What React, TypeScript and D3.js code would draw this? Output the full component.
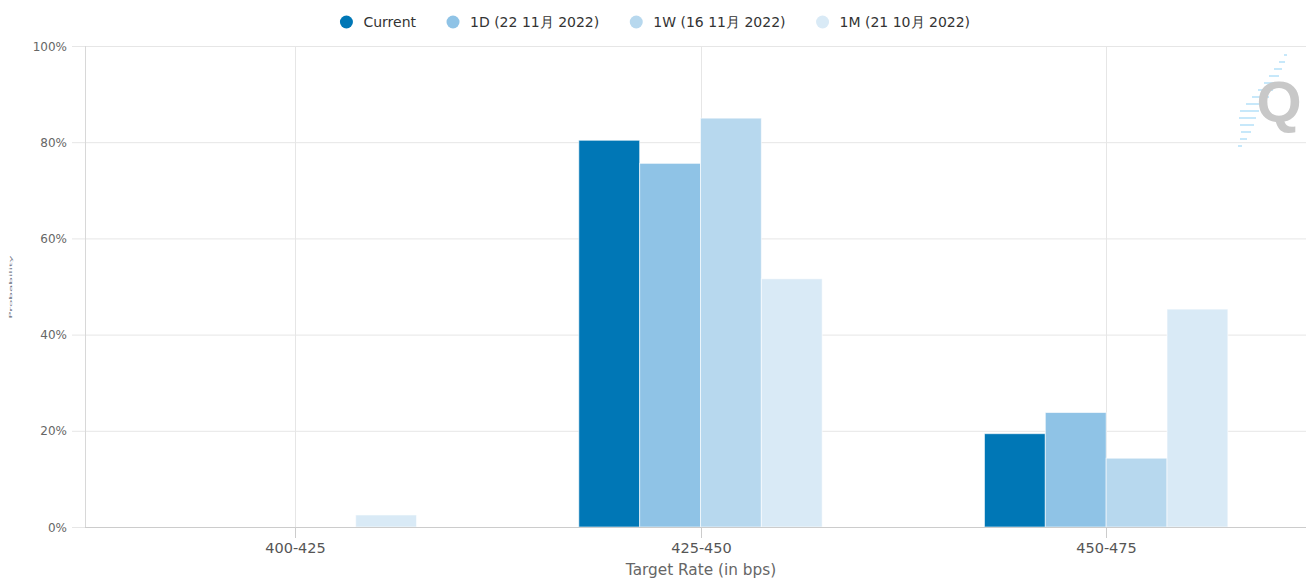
import React, { useEffect, useRef } from "react";
import * as d3 from "d3";

const categories = ["400-425", "425-450", "450-475"];
const seriesNames = ["Current", "1D (22 11月 2022)", "1W (16 11月 2022)", "1M (21 10月 2022)"];
const seriesColors = ["#0077b6", "#8fc3e6", "#b7d8ee", "#d9eaf6"];
const currentValues = [0, 80.4, 19.4];
const oneDayValues = [0, 75.6, 23.8];
const oneWeekValues = [0, 85.0, 14.3];
const oneMonthValues = [2.5, 51.6, 45.3];
const yTicks = [0, 20, 40, 60, 80, 100];
const xTitle = "Target Rate (in bps)";
const yTitle = "Probability";

const W = 1306;
const H = 579;
const FONT = "'DejaVu Sans', sans-serif";

export default function App() {
  const ref = useRef<SVGSVGElement | null>(null);

  useEffect(() => {
    const svg = d3.select(ref.current);
    svg.selectAll("*").remove();

    const values = [currentValues, oneDayValues, oneWeekValues, oneMonthValues];
    const plotLeft = 85;
    const plotTop = 46;
    const plotBottom = 527;

    const x0 = d3.scaleBand<string>().domain(categories).range([92, 1309]).padding(0);
    const groupPad = 0.2;
    const x1 = d3
      .scaleBand<number>()
      .domain(d3.range(seriesNames.length))
      .range([0, x0.bandwidth() * (1 - 2 * groupPad)]);
    const y = d3.scaleLinear().domain([0, 100]).range([plotBottom, plotTop]);

    // horizontal gridlines + y labels
    const gy = svg.append("g");
    yTicks.forEach((t) => {
      gy.append("line")
        .attr("x1", 72)
        .attr("x2", t > 0 ? W : plotLeft)
        .attr("y1", y(t) + 0.5)
        .attr("y2", y(t) + 0.5)
        .attr("stroke", "#e6e6e6")
        .attr("stroke-width", 1);
      gy.append("text")
        .attr("x", 67)
        .attr("y", y(t) + 4.5)
        .attr("text-anchor", "end")
        .attr("font-family", FONT)
        .attr("font-size", 12)
        .attr("fill", "#666666")
        .text(`${t}%`);
    });

    // vertical gridlines at category centres
    categories.forEach((c) => {
      const cx = Math.round((x0(c) as number) + x0.bandwidth() / 2) + 0.5;
      svg.append("line")
        .attr("x1", cx)
        .attr("x2", cx)
        .attr("y1", plotTop)
        .attr("y2", plotBottom)
        .attr("stroke", "#e6e6e6");
    });

    // bars
    const gb = svg.append("g");
    categories.forEach((c, ci) => {
      const gx = (x0(c) as number) + x0.bandwidth() * groupPad;
      values.forEach((vals, si) => {
        const v = vals[ci];
        if (v <= 0) return;
        gb.append("rect")
          .attr("x", gx + (x1(si) as number))
          .attr("y", y(v))
          .attr("width", x1.bandwidth())
          .attr("height", y(0) - y(v))
          .attr("fill", seriesColors[si])
          .attr("stroke", "#ffffff")
          .attr("stroke-opacity", 0.6)
          .attr("stroke-width", 1);
      });
    });

    // y axis line
    svg.append("line")
      .attr("x1", plotLeft + 0.5)
      .attr("x2", plotLeft + 0.5)
      .attr("y1", plotTop)
      .attr("y2", plotBottom)
      .attr("stroke", "#d8d8d8");

    // x axis line, ticks and labels
    svg.append("line")
      .attr("x1", plotLeft)
      .attr("x2", W)
      .attr("y1", plotBottom + 0.5)
      .attr("y2", plotBottom + 0.5)
      .attr("stroke", "#cccccc");
    categories.forEach((c) => {
      const cx = Math.round((x0(c) as number) + x0.bandwidth() / 2) + 0.5;
      svg.append("line")
        .attr("x1", cx)
        .attr("x2", cx)
        .attr("y1", plotBottom)
        .attr("y2", plotBottom + 11)
        .attr("stroke", "#cccccc");
      svg.append("text")
        .attr("x", cx)
        .attr("y", 553)
        .attr("text-anchor", "middle")
        .attr("font-family", FONT)
        .attr("font-size", 14.5)
        .attr("fill", "#555555")
        .text(c);
    });

    // axis titles
    svg.append("text")
      .attr("x", 701)
      .attr("y", 574.5)
      .attr("text-anchor", "middle")
      .attr("font-family", FONT)
      .attr("font-size", 15.3)
      .attr("fill", "#666666")
      .text(xTitle);
    svg.append("text")
      .attr("transform", "translate(12,287) scale(0.25,1) rotate(-90)")
      .attr("text-anchor", "middle")
      .attr("font-family", FONT)
      .attr("font-size", 12)
      .attr("fill", "#6a6f80")
      .text(yTitle);

    // watermark logo
    const logo = svg.append("g");
    const dashes = [
      [1284, 55, 3], [1279, 62, 6], [1274, 69, 8], [1269, 76, 10], [1264, 83, 12],
      [1258, 90, 15], [1252, 97, 17], [1246, 104, 19], [1240, 111, 19], [1239, 118, 17],
      [1240, 125, 14], [1241, 132, 10], [1240, 139, 7], [1238, 146, 4],
    ];
    dashes.forEach(([dx, dy, len]) => {
      logo.append("line")
        .attr("x1", dx)
        .attr("x2", dx + len)
        .attr("y1", dy)
        .attr("y2", dy)
        .attr("stroke", "#b4e0f8")
        .attr("stroke-width", 1.5);
    });
    logo.append("text")
      .attr("x", 1279)
      .attr("y", 122)
      .attr("text-anchor", "middle")
      .attr("font-family", "'Liberation Sans', Arial, sans-serif")
      .attr("font-weight", "bold")
      .attr("font-size", 58)
      .attr("fill", "#c8c8c8")
      .text("Q");

    // legend
    const lg = svg.append("g");
    const items = seriesNames.map((name, i) => {
      const g = lg.append("g");
      g.append("circle").attr("cx", 6.5).attr("cy", 0).attr("r", 6.5).attr("fill", seriesColors[i]);
      const t = g.append("text")
        .attr("x", 23.5)
        .attr("y", 5)
        .attr("font-family", FONT)
        .attr("font-size", 14)
        .attr("fill", "#333333")
        .text(name);
      const w = (t.node() as SVGTextElement).getComputedTextLength();
      return { g, w: 23.5 + w };
    });
    const gap = 30.5;
    const total = d3.sum(items, (d) => d.w) + gap * (items.length - 1);
    let cur = 655 - total / 2;
    items.forEach((it) => {
      it.g.attr("transform", `translate(${cur},22)`);
      cur += it.w + gap;
    });
  }, []);

  return (
    <svg
      ref={ref}
      width={W}
      height={H}
      style={{ position: "absolute", left: 0, top: 0, background: "#ffffff" }}
    />
  );
}
